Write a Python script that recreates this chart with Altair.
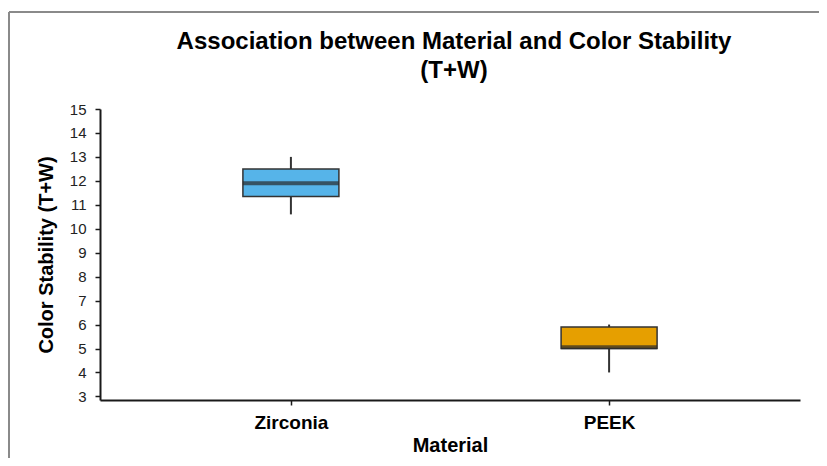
import altair as alt
import pandas as pd

materials = ["Zirconia", "PEEK"]
whisker_low = [10.6, 4.0]
q1 = [11.35, 5.0]
median = [11.9, 5.05]
q3 = [12.5, 5.9]
whisker_high = [13.0, 6.0]
colors = ["#56B4E9", "#E69F00"]
title_lines = ["Association between Material and Color Stability", "(T+W)"]
y_ticks = list(range(3, 16))

df = pd.DataFrame({
    "Material": materials,
    "lo": whisker_low, "q1": q1, "med": median, "q3": q3, "hi": whisker_high,
})

FONT = "Liberation Sans"
xscale = alt.Scale(type="point", padding=0.6)
yscale = alt.Scale(domain=[2.85, 15], nice=False, zero=False)
xaxis = alt.Axis(title="Material", labelAngle=0)
yaxis = alt.Axis(title="Color Stability (T+W)", values=y_ticks, labelOverlap=False)
X = alt.X("Material:N", sort=materials, scale=xscale, axis=xaxis)

base = alt.Chart(df)

whisk = base.mark_rule(color="#333333", strokeWidth=2).encode(
    x=X,
    y=alt.Y("lo:Q", scale=yscale, axis=yaxis),
    y2="hi:Q",
)
box = base.mark_bar(size=96, stroke="#333333", strokeWidth=1.5).encode(
    x=X,
    y=alt.Y("q1:Q", scale=yscale, axis=yaxis),
    y2="q3:Q",
    color=alt.Color("Material:N", scale=alt.Scale(domain=materials, range=colors), legend=None),
)
med = base.mark_tick(size=96, thickness=4, color="#2a2a2a").encode(
    x=X,
    y=alt.Y("med:Q", scale=yscale, axis=yaxis),
)

one = pd.DataFrame({"k": [0]})
top_line = alt.Chart(one).mark_rule(color="#8a8a8a", strokeWidth=2).encode(
    x=alt.value(-91), x2=alt.value(740), y=alt.value(-97))
left_line = alt.Chart(one).mark_rule(color="#8a8a8a", strokeWidth=2).encode(
    x=alt.value(-91), y=alt.value(-97), y2=alt.value(380))

title1 = alt.Chart(one).mark_text(font=FONT, fontSize=24, fontWeight="bold",
                                  color="#000000", align="center", baseline="alphabetic").encode(
    x=alt.value(354), y=alt.value(-60), text=alt.value(title_lines[0]))
title2 = alt.Chart(one).mark_text(font=FONT, fontSize=24, fontWeight="bold",
                                  color="#000000", align="center", baseline="alphabetic").encode(
    x=alt.value(354), y=alt.value(-31), text=alt.value(title_lines[1]))

chart = alt.layer(whisk, box, med, top_line, left_line, title1, title2).properties(
    width=700, height=291,
    autosize=alt.AutoSizeParams(type="none"),
    padding={"left": 92, "top": 101, "right": 19, "bottom": 58},
).configure_view(stroke=None).configure_axis(
    domainColor="#1a1a1a", domainWidth=2, tickColor="#1a1a1a", tickWidth=1.5,
    tickSize=5, grid=False, labelFont=FONT, titleFont=FONT,
    titleColor="#000000", labelColor="#222222",
).configure_axisY(
    labelFontSize=15, labelPadding=9, titleFontSize=20, titleFontWeight="bold",
    titlePadding=13,
).configure_axisX(
    labelFontSize=19, labelFontWeight="bold", labelColor="#000000", labelPadding=8,
    titleFontSize=20, titleFontWeight="bold", titlePadding=3,
)

chart.save("out.html", embed_options={"renderer": "svg", "actions": False})
